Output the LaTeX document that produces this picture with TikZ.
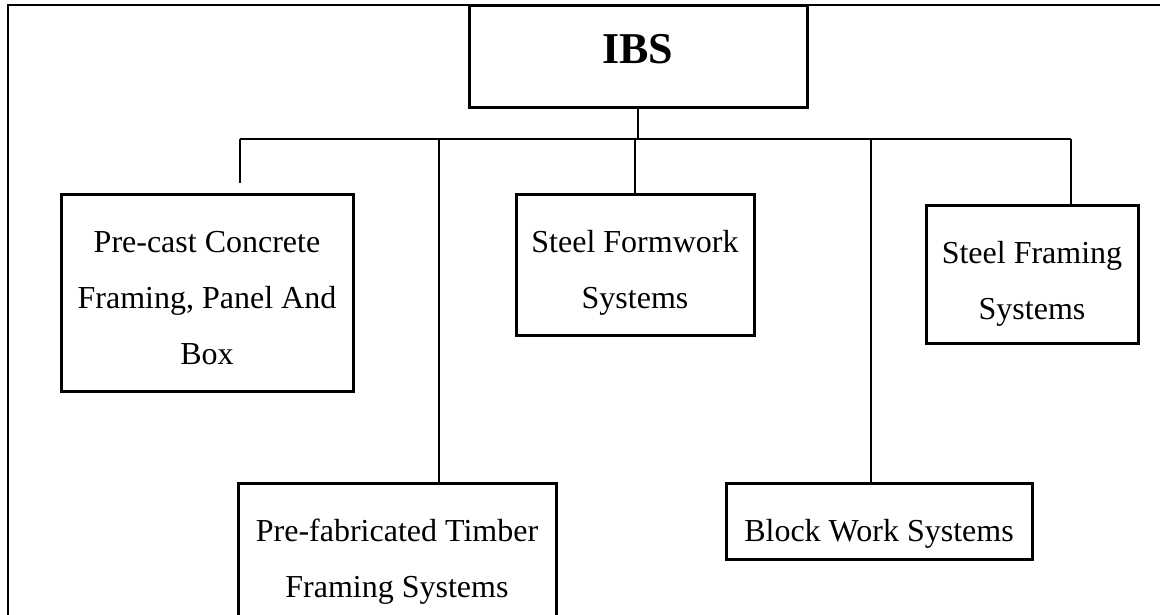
\documentclass[tikz,border=0pt]{standalone}
\usepackage{fontspec}
\setmainfont{Liberation Serif}
\usetikzlibrary{positioning}
% invisible struts to sit the text low in the box, as the original does
\newcommand{\ftop}[1]{\rule{0pt}{#1pt}}
\newcommand{\fbot}[1]{\rule[-#1pt]{0pt}{0pt}}

\begin{document}
\begin{tikzpicture}[x=1pt,y=-1pt,
    sysbox/.style={draw,line width=3pt,inner sep=0pt,align=center,
      font=\fontsize{32}{56}\selectfont},
    link/.style={line width=1.2pt}]
    \useasboundingbox (0,0) rectangle (1160,614);
    \clip (0,0) rectangle (1160,614);
    % outer frame
    \draw[line width=1.3pt] (8,5) rectangle (1200,700);
    % boxes
    \node[sysbox,minimum width=338pt,minimum height=102pt,
      font=\fontsize{44}{50}\selectfont\bfseries] (ibs) at (638,56) {\ftop{34}IBS\fbot{20}};
    \node[sysbox,minimum width=292pt,minimum height=197pt] (precast) at (207,292.5)
      {\ftop{43}Pre-cast Concrete\\Framing, Panel And\\Box\fbot{12}};
    \node[sysbox,minimum width=238pt,minimum height=141pt] (formwork) at (635,264.5)
      {\ftop{43}Steel Formwork\\Systems\fbot{12}};
    \node[sysbox,minimum width=212pt,minimum height=138pt] (framing) at (1032,274)
      {\ftop{46}Steel Framing\\Systems\fbot{12}};
    \node[sysbox,minimum width=318pt,minimum height=150pt] (timber) at (397,558)
      {\ftop{34}Pre-fabricated Timber\\Framing Systems\fbot{12}};
    \node[sysbox,minimum width=306pt,minimum height=76pt] (block) at (879,521)
      {\ftop{52}Block Work Systems\fbot{12}};
    % bus and drops
    \coordinate (busL) at (240,139);
    \coordinate (busR) at (1071,139);
    \coordinate (dT) at (439,139);
    \coordinate (dB) at (871,139);
    \coordinate (pEnd) at (240,183);
    \draw[link] (busL) -- (busR);
    \draw[link] (ibs.south) -- (ibs.south |- busL);
    \draw[link] (busL) -- (pEnd);
    \draw[link] (dT) -- (dT |- timber.north);
    \draw[link] (formwork.north |- busL) -- (formwork.north);
    \draw[link] (dB) -- (dB |- block.north);
    \draw[link] (busR) -- (busR |- framing.north);
\end{tikzpicture}
\end{document}
